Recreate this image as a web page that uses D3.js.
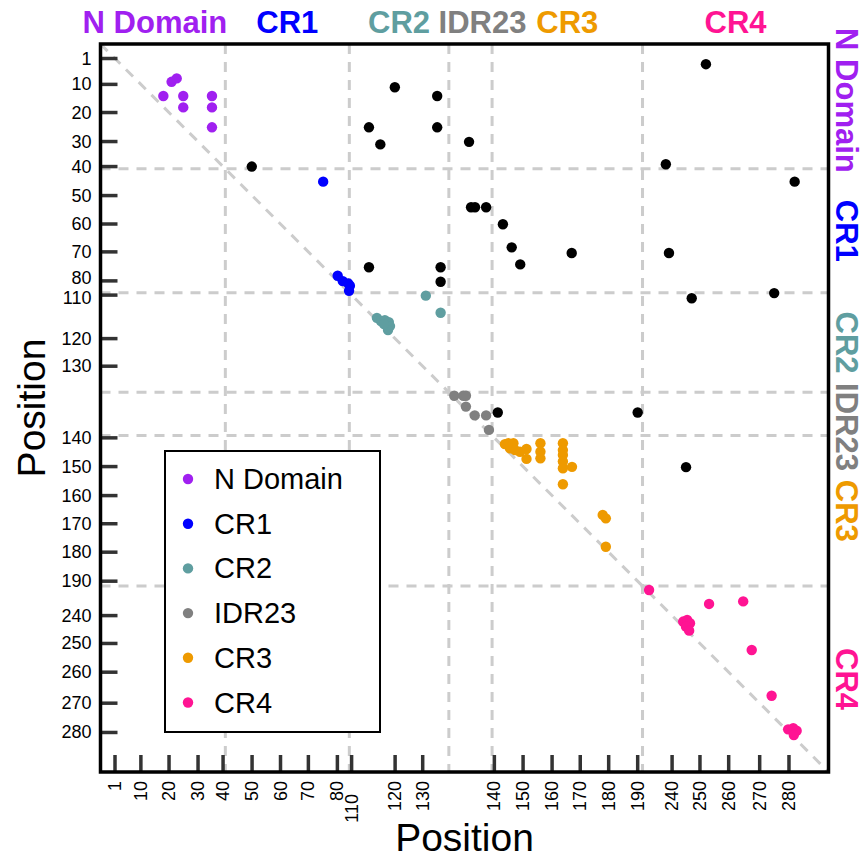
<!DOCTYPE html>
<html>
<head>
<meta charset="utf-8">
<script src="https://cdn.jsdelivr.net/npm/d3@7"></script>
<style>
  body { margin: 0; background: #fff; }
  text { font-family: "Liberation Sans", Arial, sans-serif; }
</style>
</head>
<body>
<div id="chart"></div>
<script>
// domains along the sequence (index units of the axis)
const domainNames = ["N Domain", "CR1", "CR2", "IDR23", "CR3", "CR4"];
const domainColors = ["#A020F0", "#0000FF", "#5F9EA0", "#808080", "#EE9A00", "#FF1493"];
const domainBreaks = [0, 43.9, 87.5, 122.5, 137.7, 190.6, 256];

// tick labels and where they sit on the index axis
const tickLabels = [1, 10, 20, 30, 40, 50, 60, 70, 80, 110, 120, 130, 140, 150, 160, 170, 180, 190, 240, 250, 260, 270, 280];
const tickIndex = [5.1, 14.2, 24.1, 34.3, 43.1, 53.3, 63.3, 73.1, 83.3, 88.3, 103.6, 113.3, 138.5, 148.6, 158.8, 168.7, 178.7, 188.9, 201.0, 210.8, 220.9, 231.8, 242.1];

// contacts [x, y] per domain
const nDomainPts = [[22.1, 18.3], [25.0, 13.3], [26.8, 12.1], [29.1, 18.3], [39.2, 18.3], [29.1, 22.3], [39.2, 22.3], [39.2, 29.3]];
const cr1Pts = [[78.3, 48.4], [83.4, 81.5], [85.2, 83.4], [87.1, 84.2], [87.7, 85.0], [87.4, 86.8]];
const cr2Pts = [[114.4, 88.5], [119.6, 94.5], [97.2, 96.3], [98.6, 97.4], [100.0, 97.1], [101.4, 97.8], [101.8, 99.2], [101.1, 100.6], [99.7, 98.5]];
const idr23Pts = [[124.4, 123.7], [127.6, 123.7], [128.5, 123.7], [128.5, 127.5], [131.6, 130.6], [135.6, 130.6], [136.6, 135.7]];
const cr3Pts = [[142.2, 140.7], [143.4, 140.4], [145.2, 140.4], [144.0, 142.2], [145.8, 142.8], [147.5, 143.4], [149.8, 142.4], [149.8, 145.9],
  [154.7, 140.4], [154.7, 143.4], [154.7, 145.7], [162.6, 140.4], [162.6, 142.8], [162.6, 144.5], [162.6, 146.8], [162.6, 149.2],
  [165.8, 148.7], [162.6, 154.8], [176.6, 165.6], [177.7, 166.8], [177.7, 176.8]];
const cr4Pts = [[192.9, 192.0], [214.0, 196.9], [226.0, 196.0], [204.9, 203.1], [206.3, 202.5], [207.3, 203.7], [205.9, 204.9], [207.0, 206.3],
  [229.0, 213.1], [236.0, 229.2], [241.8, 241.0], [243.6, 240.6], [244.8, 241.5], [243.8, 243.0]];
const otherPts = [[53.2, 43.1], [103.5, 15.2], [118.4, 18.3], [94.4, 29.3], [118.4, 29.3], [98.4, 35.3], [129.6, 34.4], [212.9, 7.1],
  [198.8, 42.3], [244.1, 48.4], [130.3, 57.4], [131.7, 57.4], [135.6, 57.4], [141.5, 63.4], [144.6, 71.5], [147.6, 77.5],
  [165.7, 73.5], [199.9, 73.5], [94.4, 78.5], [119.6, 78.5], [119.6, 83.6], [207.9, 89.4], [236.9, 87.6], [139.7, 129.6],
  [188.9, 129.6], [205.9, 148.8]];

const width = 864, height = 858;
const margin = { left: 100.5, top: 44 };
const size = 728;

const svg = d3.select("#chart").append("svg")
    .attr("width", width)
    .attr("height", height);

const x = d3.scaleLinear().domain([0, 256]).range([margin.left, margin.left + size]);
const y = d3.scaleLinear().domain([0, 256]).range([margin.top, margin.top + size]);

const gridStyle = (sel) => sel.attr("stroke", "#cccccc").attr("stroke-width", 3).attr("stroke-dasharray", "10,8").attr("fill", "none");

// domain boundary grid
const inner = domainBreaks.slice(1, -1);
svg.append("g").selectAll("line").data(inner).join("line")
    .attr("x1", d => x(d)).attr("x2", d => x(d))
    .attr("y1", y(0)).attr("y2", y(256))
    .call(gridStyle);
svg.append("g").selectAll("line").data(inner).join("line")
    .attr("y1", d => y(d)).attr("y2", d => y(d))
    .attr("x1", x(0)).attr("x2", x(256))
    .call(gridStyle);

// diagonal
svg.append("line")
    .attr("x1", x(0)).attr("y1", y(0))
    .attr("x2", x(256)).attr("y2", y(256))
    .call(gridStyle);

// points
const series = [
    { pts: otherPts, color: "#000000" },
    { pts: nDomainPts, color: domainColors[0] },
    { pts: cr1Pts, color: domainColors[1] },
    { pts: cr2Pts, color: domainColors[2] },
    { pts: idr23Pts, color: domainColors[3] },
    { pts: cr3Pts, color: domainColors[4] },
    { pts: cr4Pts, color: domainColors[5] }
];
series.forEach(s => {
    svg.append("g").selectAll("circle").data(s.pts).join("circle")
        .attr("cx", d => x(d[0]))
        .attr("cy", d => y(d[1]))
        .attr("r", 5.2)
        .attr("fill", s.color);
});

// ticks (inward)
const tickLen = 17;
svg.append("g").selectAll("line").data(tickIndex).join("line")
    .attr("x1", d => x(d)).attr("x2", d => x(d))
    .attr("y1", y(256)).attr("y2", y(256) - tickLen)
    .attr("stroke", "#333").attr("stroke-width", 3.5);
svg.append("g").selectAll("line").data(tickIndex).join("line")
    .attr("y1", d => y(d)).attr("y2", d => y(d))
    .attr("x1", x(0)).attr("x2", x(0) + tickLen)
    .attr("stroke", "#333").attr("stroke-width", 3.5);

// crowded neighbours (ticks closer than 20px)
const crowded = i => i > 0 && (x(tickIndex[i]) - x(tickIndex[i - 1])) < 20;

// x tick labels, rotated; push a label down when it crowds the previous one
svg.append("g").selectAll("text").data(tickIndex).join("text")
    .attr("transform", (d, i) => `translate(${x(d)},${y(256) + 9 + (crowded(i) ? 13 : 0)}) rotate(-90)`)
    .attr("text-anchor", "end")
    .attr("dominant-baseline", "central")
    .attr("font-size", 18)
    .text((d, i) => tickLabels[i]);

// y tick labels, spread crowded pairs a little
svg.append("g").selectAll("text").data(tickIndex).join("text")
    .attr("x", x(0) - 9)
    .attr("y", (d, i) => y(d) + (crowded(i) ? 3 : 0) - (crowded(i + 1) ? 3 : 0))
    .attr("text-anchor", "end")
    .attr("dominant-baseline", "central")
    .attr("font-size", 18)
    .text((d, i) => tickLabels[i]);

// frame
svg.append("rect")
    .attr("x", x(0)).attr("y", y(0))
    .attr("width", size).attr("height", size)
    .attr("fill", "none").attr("stroke", "#000").attr("stroke-width", 3.5);

// domain labels, top and right
const centers = domainNames.map((n, i) => (domainBreaks[i] + domainBreaks[i + 1]) / 2);
const topNudge = { "N Domain": -8, "IDR23": 12 };
const rightNudge = { "N Domain": -6, "IDR23": 13 };
svg.append("g").selectAll("text").data(domainNames).join("text")
    .attr("x", (d, i) => x(centers[i]) + (topNudge[d] || 0))
    .attr("y", 33)
    .attr("text-anchor", "middle")
    .attr("font-size", 31)
    .attr("font-weight", "bold")
    .attr("fill", (d, i) => domainColors[i])
    .text(d => d);
svg.append("g").selectAll("text").data(domainNames).join("text")
    .attr("transform", (d, i) => `translate(836,${y(centers[i]) + (rightNudge[d] || 0)}) rotate(90)`)
    .attr("text-anchor", "middle")
    .attr("font-size", 31)
    .attr("font-weight", "bold")
    .attr("fill", (d, i) => domainColors[i])
    .text(d => d);

// axis titles
svg.append("text")
    .attr("x", x(128)).attr("y", 851)
    .attr("text-anchor", "middle")
    .attr("font-size", 39)
    .text("Position");
svg.append("text")
    .attr("transform", `translate(45,${y(128)}) rotate(-90)`)
    .attr("text-anchor", "middle")
    .attr("font-size", 39)
    .text("Position");

// legend
const legend = svg.append("g").attr("transform", "translate(165,451)");
legend.append("rect")
    .attr("width", 215).attr("height", 281)
    .attr("fill", "#fff").attr("stroke", "#000").attr("stroke-width", 2);
const row = legend.selectAll("g").data(domainNames).join("g")
    .attr("transform", (d, i) => `translate(0,${28 + i * 44.7})`);
row.append("circle").attr("cx", 23).attr("r", 5.2).attr("fill", (d, i) => domainColors[i]);
row.append("text")
    .attr("x", 49)
    .attr("dominant-baseline", "central")
    .attr("font-size", 29)
    .text(d => d);
</script>
</body>
</html>
